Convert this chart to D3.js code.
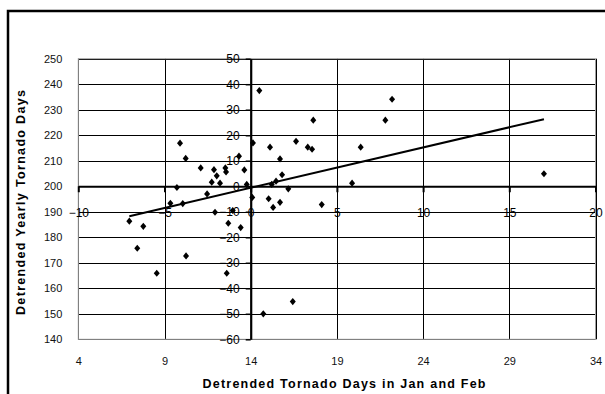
<!DOCTYPE html>
<html>
<head>
<meta charset="utf-8">
<script src="https://cdn.jsdelivr.net/npm/d3@7"></script>
<style>
  body { margin: 0; background: #fff; }
  text { font-family: "Liberation Sans", Arial, sans-serif; }
</style>
</head>
<body>
<svg class="chart" width="605" height="394"></svg>
<script>
// detrended values (plotted against the inner axes that cross at 0,0)
const janFeb = [-7.04, -6.58, -6.23, -5.45, -4.66, -4.28, -4.10, -3.94, -3.77, -3.75,
  -2.90, -2.53, -2.26, -2.13, -2.07, -1.97, -1.78, -1.47, -1.43, -1.30,
  -1.39, -1.04, -0.68, -0.58, -0.37, -0.23, 0.09, 0.13, 0.50, 0.73,
  1.04, 1.12, 1.22, 1.30, 1.47, 1.70, 1.70, 1.82, 2.18, 2.44,
  2.63, 3.31, 3.56, 3.63, 4.12, 5.88, 6.38, 7.81, 8.20, 17.01];
const yearly = [-13.7, -24.3, -15.7, -34.1, -6.7, -0.5, 16.9, -6.8, 10.9, -27.3,
  7.2, -3.0, 1.6, 6.5, -10.2, 4.1, 1.2, 7.2, 5.6, -14.5,
  -34.1, -9.5, 11.8, -16.2, 6.4, 0.7, -4.4, 17.0, 37.5, -50.0,
  -4.9, 15.3, 0.7, -8.3, 2.0, 10.7, -6.3, 4.5, -1.0, -45.2,
  17.6, 15.3, 14.5, 25.9, -7.2, 1.2, 15.3, 25.9, 34.1, 4.9];

const outerXTicks = [4, 9, 14, 19, 24, 29, 34];
const outerYTicks = [140, 150, 160, 170, 180, 190, 200, 210, 220, 230, 240, 250];
const innerXTicks = [-10, -5, 0, 5, 10, 15, 20];
const innerYTicks = [-60, -50, -40, -30, -20, -10, 0, 10, 20, 30, 40, 50];

const svg = d3.select('.chart');
const pLeft = 78.3, pRight = 595.5, pTop = 58.7, pBottom = 339.3;

const x = d3.scaleLinear().domain([4, 34]).range([pLeft, pRight]);
const y = d3.scaleLinear().domain([140, 250]).range([pBottom, pTop]);
const x2 = d3.scaleLinear().domain([-10, 20]).range([pLeft, pRight]);
const y2 = d3.scaleLinear().domain([-60, 50]).range([pBottom, pTop]);

// chart area border
svg.append('rect')
  .attr('x', 8).attr('y', 11).attr('width', 700).attr('height', 500)
  .attr('fill', 'none').attr('stroke', '#000').attr('stroke-width', 2.5);

// gridlines
const grid = svg.append('g').attr('stroke', '#000').attr('stroke-width', 1);
grid.selectAll('.hg').data(outerYTicks).enter().append('line')
  .attr('x1', pLeft).attr('x2', pRight)
  .attr('y1', d => Math.round(y(d)) + 0.5).attr('y2', d => Math.round(y(d)) + 0.5);
grid.selectAll('.vg').data(outerXTicks).enter().append('line')
  .attr('y1', pTop).attr('y2', pBottom)
  .attr('x1', d => Math.round(x(d)) + 0.5).attr('x2', d => Math.round(x(d)) + 0.5);

// plot area border
svg.append('rect')
  .attr('x', pLeft).attr('y', pTop).attr('width', pRight - pLeft).attr('height', pBottom - pTop)
  .attr('fill', 'none').attr('stroke', '#a0a0a0').attr('stroke-width', 1);

// outer axes: labels only
svg.append('g')
  .attr('transform', `translate(${pLeft},0)`)
  .call(d3.axisLeft(y).tickValues(outerYTicks).tickSize(0).tickPadding(16))
  .call(g => g.select('.domain').remove())
  .call(g => g.selectAll('text').attr('font-size', 11).attr('fill', '#111').attr('font-family', null));

svg.append('g')
  .attr('transform', `translate(0,${pBottom})`)
  .call(d3.axisBottom(x).tickValues(outerXTicks).tickSize(0).tickPadding(18))
  .call(g => g.select('.domain').remove())
  .call(g => g.selectAll('text').attr('font-size', 11).attr('fill', '#111').attr('font-family', null));

// inner axes crossing at 0,0
const ax = svg.append('g')
  .attr('transform', `translate(0,${y2(0)})`)
  .call(d3.axisBottom(x2).tickValues(innerXTicks).tickSize(6).tickPadding(16).tickSizeOuter(0));
ax.select('.domain').attr('stroke-width', 2.2);
ax.selectAll('.tick line').attr('stroke-width', 2);
ax.selectAll('text').attr('font-size', 12).attr('fill', '#000').attr('font-family', null);

const ay = svg.append('g')
  .attr('transform', `translate(${x2(0)},0)`)
  .call(d3.axisLeft(y2).tickValues(innerYTicks).tickSize(5).tickPadding(6).tickSizeOuter(0));
ay.select('.domain').attr('stroke-width', 2.2);
ay.selectAll('.tick line').attr('stroke-width', 1.5);
ay.selectAll('text').attr('font-size', 12).attr('fill', '#000').attr('font-family', null);

// linear trend line (least squares) over the data range
const mx = d3.mean(janFeb), my = d3.mean(yearly);
const sxy = d3.sum(janFeb, (v, i) => (v - mx) * (yearly[i] - my));
const sxx = d3.sum(janFeb, v => (v - mx) * (v - mx));
const slope = sxy / sxx, icpt = my - slope * mx;
const ext = d3.extent(janFeb);
svg.append('path')
  .datum(ext)
  .attr('fill', 'none').attr('stroke', '#000').attr('stroke-width', 2)
  .attr('d', d3.line().x(d => x2(d)).y(d => y2(icpt + slope * d)));

// markers
svg.append('g').selectAll('path')
  .data(janFeb.map((v, i) => [v, yearly[i]]))
  .enter().append('path')
  .attr('transform', d => `translate(${x2(d[0])},${y2(d[1])})`)
  .attr('d', 'M0,-3.6L3,0L0,3.6L-3,0Z')
  .attr('fill', '#000');

// axis titles
svg.append('text')
  .attr('transform', 'translate(25,202.5) rotate(-90)')
  .attr('text-anchor', 'middle')
  .attr('font-size', 12.5).attr('font-weight', 'bold')
  .attr('textLength', 225).attr('lengthAdjust', 'spacing')
  .text('Detrended Yearly Tornado Days');

svg.append('text')
  .attr('x', 344).attr('y', 387.5)
  .attr('text-anchor', 'middle')
  .attr('font-size', 12.5).attr('font-weight', 'bold')
  .attr('textLength', 283).attr('lengthAdjust', 'spacing')
  .text('Detrended Tornado Days in Jan and Feb');
</script>
</body>
</html>
